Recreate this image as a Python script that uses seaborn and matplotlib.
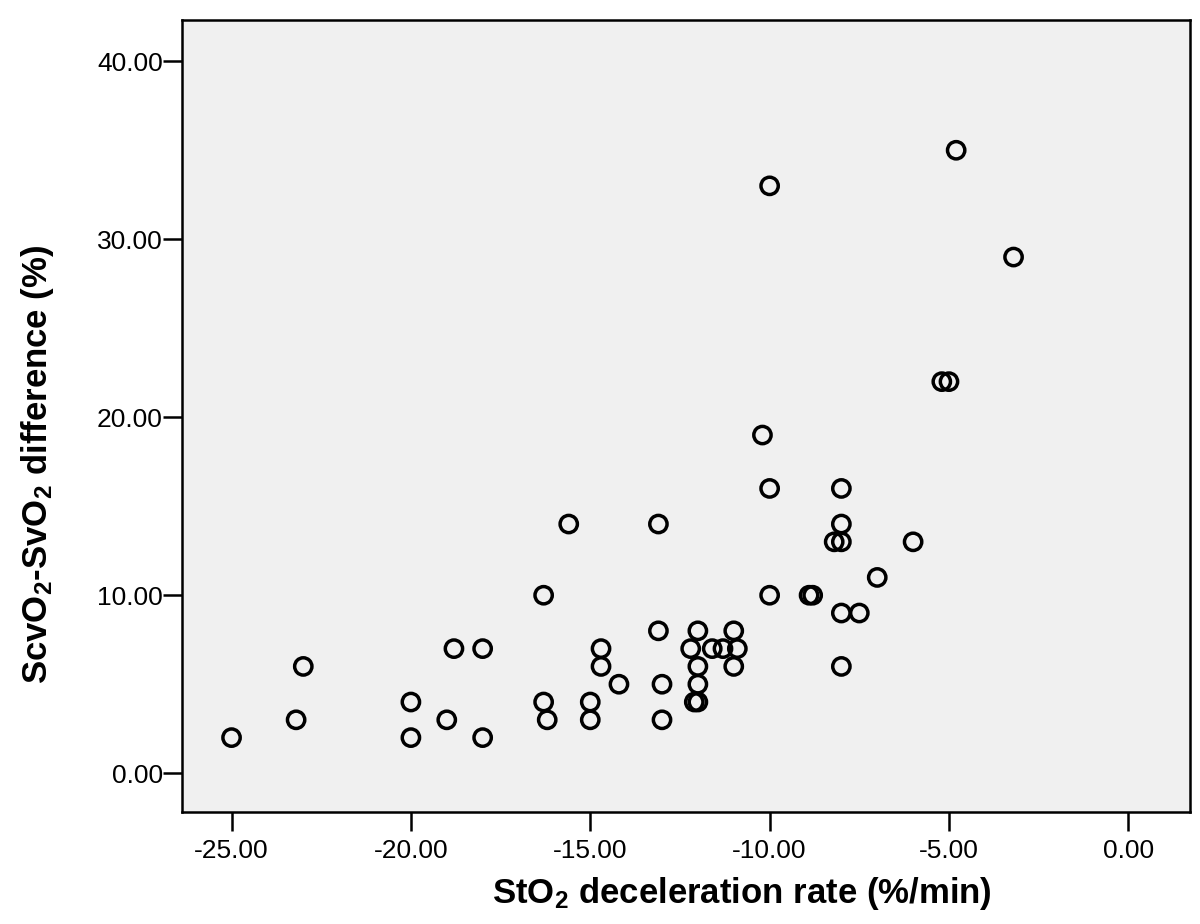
import pandas as pd
import numpy as np
import seaborn as sns
import matplotlib.pyplot as plt

# StO2 deceleration rate (%/min)
decel = [-25, -23.2, -23, -20, -20, -19, -18.8, -18, -18,
         -16.3, -16.3, -16.2, -15.6, -15, -15, -14.7, -14.7, -14.2,
         -13.1, -13.1, -13, -13, -12.2, -12, -12, -12, -12.1, -12,
         -11.6, -11.3, -11, -11, -10.9,
         -10, -10.2, -10, -10, -8.9, -8.8, -8.2, -8, -8, -8, -8, -8,
         -7.5, -7, -6, -5.2, -5, -4.8, -3.2]
# ScvO2-SvO2 difference (%)
diff = [2, 3, 6, 4, 2, 3, 7, 7, 2,
        10, 4, 3, 14, 4, 3, 7, 6, 5,
        14, 8, 5, 3, 7, 8, 6, 5, 4, 4,
        7, 7, 8, 6, 7,
        33, 19, 16, 10, 10, 10, 13, 16, 14, 13, 9, 6,
        9, 11, 13, 22, 22, 35, 29]

xticks = [-25, -20, -15, -10, -5, 0]
yticks = [0, 10, 20, 30, 40]

data = pd.DataFrame({'decel': decel, 'diff': diff})

sns.set_style('ticks')
plt.rcParams['font.family'] = ['Liberation Sans', 'DejaVu Sans']
plt.rcParams['mathtext.default'] = 'regular'
plt.rcParams['text.color'] = 'black'
plt.rcParams['axes.labelcolor'] = 'black'
plt.rcParams['xtick.color'] = 'black'
plt.rcParams['ytick.color'] = 'black'

fig = plt.figure(figsize=(12, 9.24), dpi=100)
ax = fig.add_axes([0.152, 0.121, 0.840, 0.857])
ax.set_facecolor('#f0f0f0')

sns.scatterplot(x='decel', y='diff', data=data, ax=ax, s=155,
                facecolor='none', edgecolor='black', linewidth=2.5)

ax.set_xlim(-26.37, 1.73)
ax.set_ylim(-2.19, 42.3)
ax.set_xticks(xticks)
ax.set_yticks(yticks)
ax.set_xticklabels(['%.2f' % t for t in xticks], fontsize=19)
ax.set_yticklabels(['%.2f' % t for t in yticks], fontsize=19)
ax.tick_params(length=14, width=1.8, color='black', labelcolor='black')
ax.tick_params(axis='x', pad=5)
ax.tick_params(axis='y', pad=0)
for sp in ax.spines.values():
    sp.set_linewidth(1.8)
    sp.set_color('black')

ax.set_xlabel('StO$_2$ deceleration rate (%/min)', fontsize=25, fontweight='bold')
ax.set_ylabel('ScvO$_2$-SvO$_2$ difference (%)', fontsize=25, fontweight='bold')
ax.xaxis.set_label_coords(0.5546, -0.079)
ax.yaxis.set_label_coords(-0.125, 0.439)

plt.savefig('out.png', dpi=100)
